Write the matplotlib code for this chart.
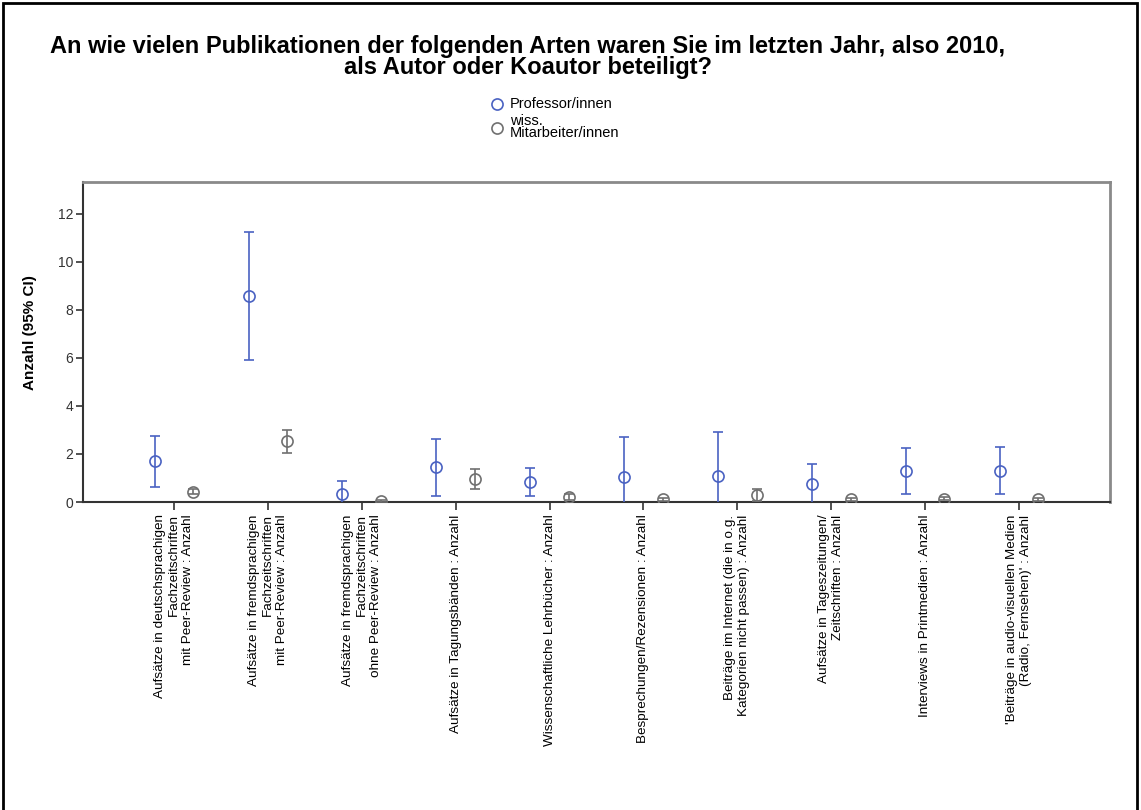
import numpy as np
import matplotlib.pyplot as plt
from matplotlib.patches import Rectangle
from matplotlib.lines import Line2D

plt.rcParams['font.family'] = ['Liberation Sans', 'DejaVu Sans']

categories = [
    "Aufsätze in deutschsprachigen\nFachzeitschriften\nmit Peer-Review : Anzahl",
    "Aufsätze in fremdsprachigen\nFachzeitschriften\nmit Peer-Review : Anzahl",
    "Aufsätze in fremdsprachigen\nFachzeitschriften\nohne Peer-Review : Anzahl",
    "Aufsätze in Tagungsbänden : Anzahl",
    "Wissenschaftliche Lehrbücher : Anzahl",
    "Besprechungen/Rezensionen : Anzahl",
    "Beiträge im Internet (die in o.g.\nKategorien nicht passen) : Anzahl",
    "Aufsätze in Tageszeitungen/\nZeitschriften : Anzahl",
    "Interviews in Printmedien : Anzahl",
    "'Beiträge in audio-visuellen Medien\n(Radio, Fernsehen)' : Anzahl",
]

prof_mean = [1.69, 8.57, 0.35, 1.46, 0.83, 1.04, 1.08, 0.75, 1.29, 1.31]
prof_lo = [0.61, 5.90, -0.19, 0.27, 0.25, -0.63, -0.74, -0.08, 0.35, 0.35]
prof_hi = [2.76, 11.24, 0.89, 2.64, 1.43, 2.71, 2.90, 1.58, 2.25, 2.28]

mit_mean = [0.43, 2.53, 0.04, 0.97, 0.21, 0.11, 0.31, 0.11, 0.14, 0.11]
mit_lo = [0.33, 2.04, 0.00, 0.56, 0.10, 0.05, 0.04, 0.05, 0.07, 0.05]
mit_hi = [0.54, 3.00, 0.08, 1.39, 0.32, 0.17, 0.56, 0.17, 0.21, 0.17]

yticks = [0, 2, 4, 6, 8, 10, 12]

blue = '#4a62c2'
grey = '#707070'

W, H = 1141, 810
fig = plt.figure(figsize=(W / 100, H / 100), dpi=100)
ax = fig.add_axes([83 / W, 1 - 502 / H, (1110 - 83) / W, (502 - 182) / H])

x = np.arange(len(categories))
off = 0.207

def draw(xs, m, lo, hi, color):
    m = np.array(m)
    err = [m - np.array(lo), np.array(hi) - m]
    ax.errorbar(xs, m, yerr=err, fmt='o', mfc='none', mec=color, ecolor=color,
                ms=8, mew=1.2, elinewidth=1.2, capsize=3.4, capthick=1.2,
                zorder=3)

draw(x - off, prof_mean, prof_lo, prof_hi, blue)
draw(x + off, mit_mean, mit_lo, mit_hi, grey)

ax.set_xlim(-0.97, 9.97)
ax.set_ylim(0, 13.32)
ax.set_yticks(yticks)
ax.set_yticklabels([str(t) for t in yticks], fontsize=10, color='#333333')
ax.set_xticks(x)
ax.set_xticklabels(categories, rotation=90, fontsize=9.7, ha='center', va='top',
                   multialignment='right')
ax.tick_params(axis='x', length=6, width=1.2, color='#333333', pad=3)
ax.tick_params(axis='y', length=5, width=1.2, color='#333333', pad=2)

for s in ['left', 'bottom']:
    ax.spines[s].set_color('#333333')
    ax.spines[s].set_linewidth(1.5)
for s in ['top', 'right']:
    ax.spines[s].set_color('#8a8a8a')
    ax.spines[s].set_linewidth(2)

ax.set_ylabel('Anzahl (95% CI)', fontsize=11, fontweight='bold')
ax.yaxis.set_label_coords((37 - 83) / (1110 - 83), (502 - 333) / (502 - 182))

fig.text(528 / W, 1 - 57 / H,
         'An wie vielen Publikationen der folgenden Arten waren Sie im letzten Jahr, also 2010,\n'
         'als Autor oder Koautor beteiligt?',
         ha='center', va='center', fontsize=17, fontweight='bold', linespacing=0.85)

# legend
fig.add_artist(Line2D([497 / W], [1 - 104 / H], marker='o', ms=8, mfc='none',
                      mec=blue, mew=1.2, transform=fig.transFigure))
fig.text(510 / W, 1 - 104 / H, 'Professor/innen', fontsize=10.5, va='center', ha='left')
fig.add_artist(Line2D([497 / W], [1 - 128 / H], marker='o', ms=8, mfc='none',
                      mec=grey, mew=1.2, transform=fig.transFigure))
fig.text(510 / W, 1 - 127 / H, 'wiss.\nMitarbeiter/innen', fontsize=10.5, va='center',
         ha='left', linespacing=0.85)

# outer frame
fig.add_artist(Rectangle((3 / W, -0.01), (1137 - 3) / W, 1 - 3 / H + 0.01,
                         transform=fig.transFigure, fill=False, ec='black', lw=2))

fig.savefig('out.png', dpi=100)
